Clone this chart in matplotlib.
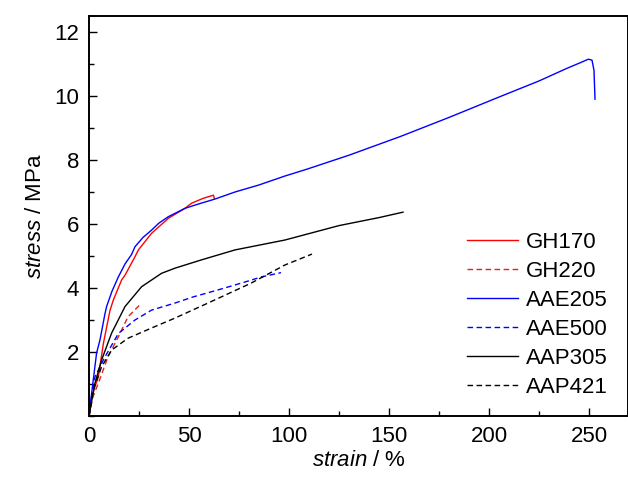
import matplotlib
matplotlib.use("Agg")
import matplotlib.pyplot as plt
from matplotlib.ticker import MultipleLocator

plt.rcParams["font.family"] = ["Liberation Sans", "DejaVu Sans"]
plt.rcParams["mathtext.fontset"] = "custom"
plt.rcParams["mathtext.rm"] = "Liberation Sans"
plt.rcParams["mathtext.it"] = "Liberation Sans:italic"

# stress-strain curves (strain %, stress MPa)
gh170_x = [0, 1.3, 4.7, 7.2, 10.5, 12.2, 16.3, 18, 23, 24.7, 31.3, 39.7, 48, 51.3, 57, 62.2, 62.7]
gh170_y = [0, 0.6, 1.23, 2.27, 3.3, 3.63, 4.25, 4.4, 4.98, 5.19, 5.71, 6.18, 6.49, 6.65, 6.8, 6.9, 6.8]

gh220_x = [0, 2, 4.7, 9.5, 14.7, 19.5, 26.3]
gh220_y = [0, 0.6, 1.03, 1.85, 2.48, 3.1, 3.53]

aae205_x = [0, 0.5, 3.8, 5.5, 8, 8.8, 11.5, 14.7, 18, 21.3, 23, 27, 31.3, 35, 39.7, 48, 55, 63,
            73, 85, 98, 108.8, 130, 155.5, 180, 205.5, 225, 238.8, 246, 249.7, 251.5, 252.5, 253]
aae205_y = [0, 0.3, 1.97, 2.38, 3.2, 3.42, 3.9, 4.35, 4.75, 5.05, 5.29, 5.58, 5.81, 6.03, 6.23,
            6.49, 6.63, 6.78, 7.0, 7.22, 7.5, 7.71, 8.15, 8.73, 9.33, 9.98, 10.47, 10.86, 11.05,
            11.15, 11.12, 10.8, 9.9]

aae500_x = [0, 3, 8, 14.7, 23, 31.3, 43, 52, 64.5, 76, 86.5, 96]
aae500_y = [0, 1.23, 1.85, 2.58, 3.0, 3.31, 3.53, 3.72, 3.94, 4.15, 4.35, 4.48]

aap305_x = [0, 3, 6.3, 11.3, 18, 26.3, 31.3, 36.3, 43, 56.3, 73, 98, 125, 145, 157]
aap305_y = [0, 1.03, 1.75, 2.59, 3.42, 4.04, 4.25, 4.46, 4.62, 4.88, 5.19, 5.5, 5.95, 6.2, 6.37]

aap421_x = [0, 2, 6.3, 11.3, 19.5, 31.3, 43, 59.5, 81, 98, 111.5]
aap421_y = [0, 0.8, 1.54, 2.06, 2.43, 2.75, 3.06, 3.53, 4.15, 4.72, 5.06]

series = [
    ("GH170", gh170_x, gh170_y, "#ff0000", "-"),
    ("GH220", gh220_x, gh220_y, "#dd2222", "--"),
    ("AAE205", aae205_x, aae205_y, "#0000ff", "-"),
    ("AAE500", aae500_x, aae500_y, "#0000ff", "--"),
    ("AAP305", aap305_x, aap305_y, "#000000", "-"),
    ("AAP421", aap421_x, aap421_y, "#000000", "--"),
]

fig = plt.figure(figsize=(6.28, 4.82), dpi=100)
ax = fig.add_axes([89 / 628, 66 / 482, 539 / 628, 400 / 482])

for name, xs, ys, col, ls in series:
    ax.plot(xs, ys, color=col, ls=ls, lw=1.0, label=name,
            dashes=(4, 2.5) if ls == "--" else (None, None))

ax.set_xlim(0, 269.5)
ax.set_ylim(0, 12.5)
ax.xaxis.set_major_locator(MultipleLocator(50))
ax.xaxis.set_minor_locator(MultipleLocator(25))
ax.yaxis.set_minor_locator(MultipleLocator(1))
ax.set_yticks([2, 4, 6, 8, 10, 12])
ax.tick_params(which="both", direction="in", top=False, right=False, labelsize=16, width=1.0)
ax.tick_params(which="major", length=6, pad=7)
ax.tick_params(which="minor", length=3.5)
for s in ax.spines.values():
    s.set_linewidth(1.4)

ax.set_xlabel(r"$\mathit{strain}$ / %", fontsize=16, labelpad=2)
ax.set_ylabel(r"$\mathit{stress}$ / MPa", fontsize=16, labelpad=6)

ax.legend(loc="lower right", bbox_to_anchor=(1.0, -0.005), frameon=False, fontsize=16,
          handlelength=2.3, handletextpad=0.35, labelspacing=0.36)

fig.savefig("out.png", dpi=100)
